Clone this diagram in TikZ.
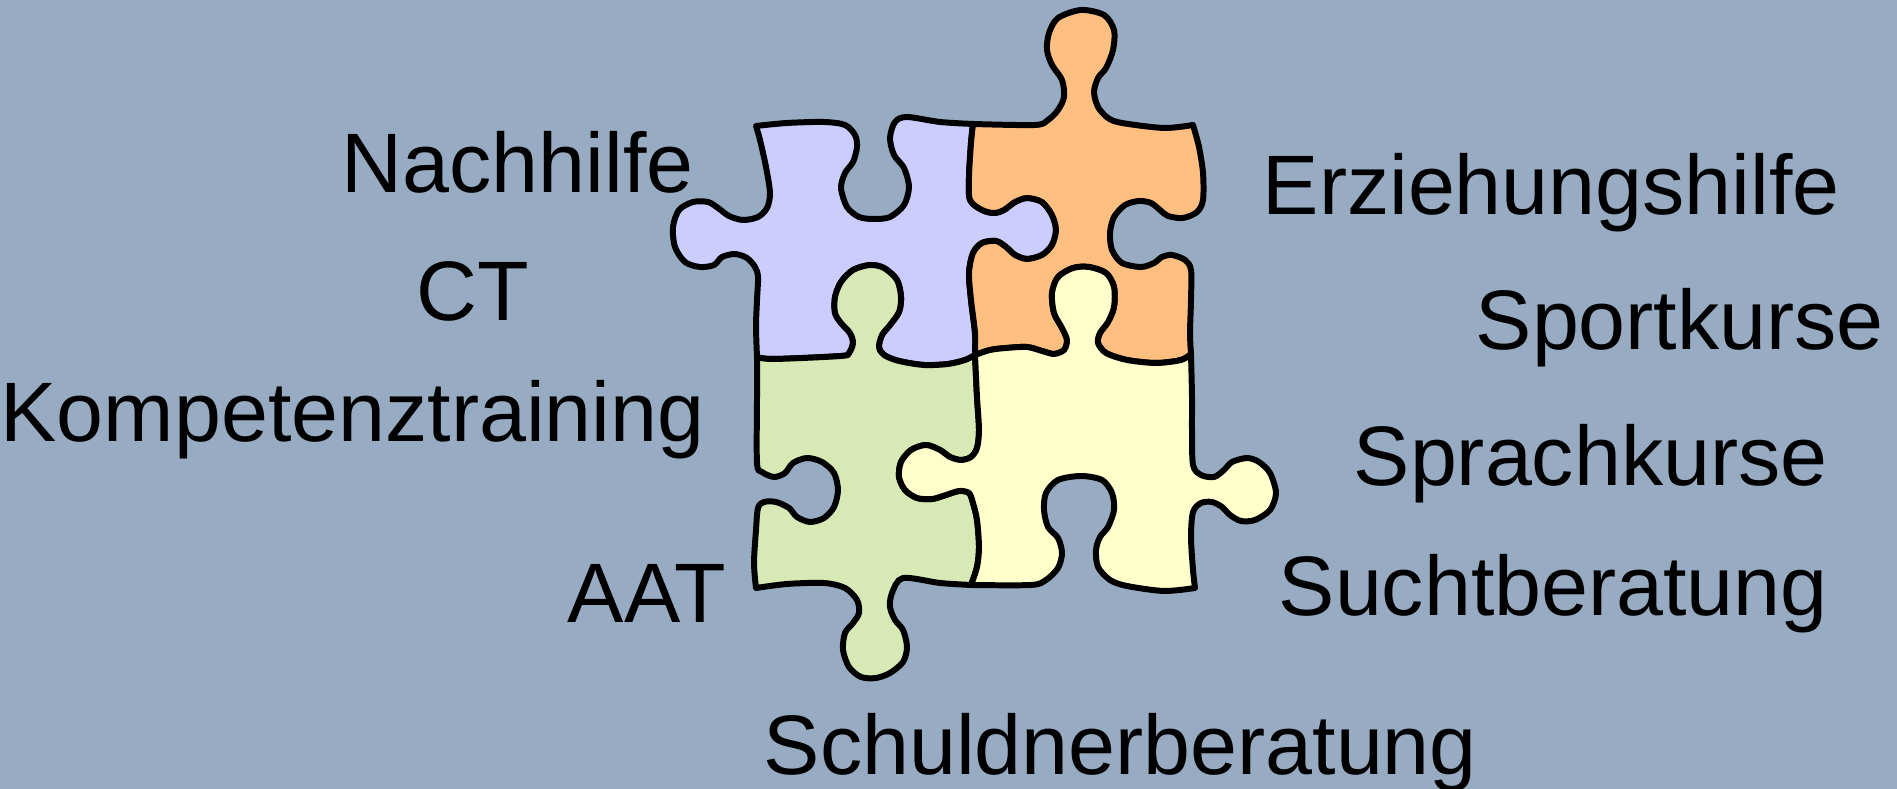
\documentclass[tikz,border=0pt]{standalone}
\usepackage{fontspec}
\setmainfont{Liberation Sans}
\usepackage{tikz}

\definecolor{slate}{RGB}{151,171,194}
\definecolor{pzblue}{RGB}{204,204,255}
\definecolor{pzorange}{RGB}{255,191,128}
\definecolor{pzgreen}{RGB}{216,233,181}
\definecolor{pzyellow}{RGB}{255,255,204}

\tikzset{
  word/.style={anchor=base west, inner sep=0pt, font=\fontsize{24}{28}\selectfont},
  piece/.style={draw=black, line width=1.7pt, line join=round}
}

\begin{document}
\begin{tikzpicture}[x=0.01cm, y=-0.01cm]
                \fill[slate] (0,0) rectangle (1897,789);
                \useasboundingbox (0,0) rectangle (1897,789);
                % top left
                \filldraw[piece, fill=pzblue] (756,126)
                  -- plot[smooth] coordinates {(756,126) (787,123) (824,122) (845,125) (855,135) (857,147) (853,162) (845,173) (841,188) (847,207) (859,217) (874,219) (890,217) (904,205) (909,187) (904,168) (894,155) (890,138) (895,122) (907,117) (940,122) (973,124)}
                  -- plot[smooth] coordinates {(973,124) (971,143) (969,177) (970,200) (982,210) (994,213) (1004,210) (1015,202) (1027,198) (1042,202) (1052,215) (1056,230) (1052,245) (1042,255) (1027,259) (1015,255) (1006,247) (996,241) (982,243) (973,253) (969,273) (971,300) (975,333) (975,355)}
                  -- plot[smooth] coordinates {(975,355) (965,360) (948,364) (924,365) (899,361) (884,355) (879,347) (882,335) (890,325) (899,312) (901,297) (897,280) (884,268) (870,265) (853,270) (841,282) (835,297) (835,313) (841,323) (850,333) (853,343) (849,353) (841,356) (774,359) (757,357)}
                  -- plot[smooth] coordinates {(757,357) (756,327) (757,300) (758,277) (755,267) (747,258) (735,254) (722,257) (714,265) (700,267) (685,262) (675,247) (673,227) (679,210) (693,202) (708,202) (718,208) (729,216) (743,220) (758,217) (767,208) (770,193) (766,167) (760,140) (756,126)}
                  -- cycle;
                % top right
                \filldraw[piece, fill=pzorange] (973,124)
                  -- plot[smooth] coordinates {(973,124) (1035,125) (1048,120) (1058,110) (1064,97) (1062,80) (1052,65) (1047,50) (1049,33) (1058,18) (1081,10) (1104,15) (1114,30) (1113,50) (1106,68) (1098,78) (1094,92) (1098,107) (1108,118) (1122,123) (1164,128) (1193,125)}
                  -- plot[smooth] coordinates {(1193,125) (1199,147) (1203,173) (1203,200) (1197,212) (1183,218) (1168,216) (1160,210) (1151,203) (1139,201) (1125,205) (1114,217) (1110,233) (1112,250) (1122,263) (1141,267) (1154,263) (1162,257) (1172,255) (1185,260) (1191,270) (1191,300) (1190,333) (1191,354)}
                  -- plot[smooth] coordinates {(1191,354) (1181,360) (1156,363) (1127,360) (1106,353) (1098,343) (1100,333) (1108,322) (1114,307) (1114,287) (1106,273) (1089,267) (1073,268) (1058,277) (1052,293) (1054,313) (1062,328) (1067,340) (1064,350) (1054,354) (1042,351) (1027,347) (1006,348) (990,350) (975,355)}
                  -- plot[smooth] coordinates {(975,355) (975,333) (971,300) (969,273) (973,253) (982,243) (996,241) (1006,247) (1015,255) (1027,259) (1042,255) (1052,245) (1056,230) (1052,215) (1042,202) (1027,198) (1015,202) (1004,210) (994,213) (982,210) (970,200) (969,177) (971,143) (973,124)}
                  -- cycle;
                % bottom left
                \filldraw[piece, fill=pzgreen] (757,357)
                  -- plot[smooth] coordinates {(757,357) (774,359) (841,356) (849,353) (853,343) (850,333) (841,323) (835,313) (835,297) (841,282) (853,270) (870,265) (884,268) (897,280) (901,297) (899,312) (890,325) (882,335) (879,347) (884,355) (899,361) (924,365) (948,364) (965,360) (975,355)}
                  -- plot[smooth] coordinates {(975,355) (977,397) (979,430) (977,448) (971,457) (961,460) (950,457) (940,450) (926,445) (911,450) (901,462) (899,477) (905,490) (917,498) (932,499) (946,495) (959,491) (969,493) (973,503) (977,520) (979,547) (977,567) (971,585)}
                  -- plot[smooth] coordinates {(971,585) (940,583) (903,578) (892,593) (890,607) (895,620) (903,630) (907,647) (903,662) (890,673) (876,678) (861,677) (849,667) (843,650) (845,633) (853,623) (859,613) (857,600) (845,588) (824,583) (787,584) (756,588)}
                  -- plot[smooth] coordinates {(756,588) (754,563) (756,530) (758,508) (764,502) (776,502) (789,508) (797,517) (810,522) (824,518) (834,507) (838,490) (834,473) (822,462) (807,458) (793,463) (785,473) (774,477) (762,472) (757,463) (757,397) (757,357)}
                  -- cycle;
                % bottom right
                \filldraw[piece, fill=pzyellow] (975,355)
                  -- plot[smooth] coordinates {(975,355) (990,350) (1006,348) (1027,347) (1042,351) (1054,354) (1064,350) (1067,340) (1062,328) (1054,313) (1052,293) (1058,277) (1073,268) (1089,267) (1106,273) (1114,287) (1114,307) (1108,322) (1100,333) (1098,343) (1106,353) (1127,360) (1156,363) (1181,360) (1191,354)}
                  -- plot[smooth] coordinates {(1191,354) (1192,397) (1192,430) (1193,465) (1201,475) (1214,477) (1224,470) (1232,462) (1247,458) (1259,462) (1270,473) (1276,493) (1270,510) (1255,520) (1241,521) (1230,515) (1222,507) (1212,502) (1201,503) (1193,512) (1191,537) (1193,570) (1195,588)}
                  -- plot[smooth] coordinates {(1195,588) (1164,591) (1127,586) (1110,580) (1098,567) (1096,550) (1100,537) (1108,527) (1114,510) (1112,493) (1102,480) (1081,476) (1058,480) (1046,493) (1044,510) (1048,527) (1058,538) (1062,553) (1058,568) (1046,580) (1031,585) (971,585)}
                  -- plot[smooth] coordinates {(971,585) (977,567) (979,547) (977,520) (973,503) (969,493) (959,491) (946,495) (932,499) (917,498) (905,490) (899,477) (901,462) (911,450) (926,445) (940,450) (950,457) (961,460) (971,457) (977,448) (979,430) (977,397) (975,355)}
                  -- cycle;
                % labels
                \node[word] (nachhilfe) at (341,193) {Nachhilfe};
                \node[word] (ct) at (416,321) {CT};
                \node[word] (kompetenz) at (0,442) {Kompetenztraining};
                \node[word] (aat) at (567,623) {AAT};
                \node[word] (erziehung) at (1262,215) {Erziehungshilfe};
                \node[word] (sport) at (1475,350) {Sportkurse};
                \node[word] (sprach) at (1353,486) {Sprachkurse};
                \node[word] (sucht) at (1278,616) {Suchtberatung};
                \node[word] (schulden) at (763,775) {Schuldnerberatung};
\end{tikzpicture}
\end{document}
